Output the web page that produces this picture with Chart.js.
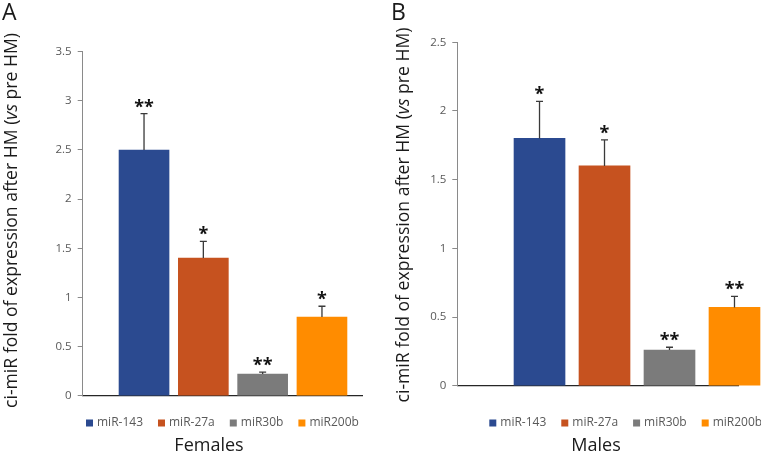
<!DOCTYPE html>
<html>
<head>
<meta charset="utf-8">
<script src="https://cdn.jsdelivr.net/npm/chart.js@4.4.0/dist/chart.umd.min.js"></script>
<style>
  html, body { margin: 0; padding: 0; background: #fff; }
  #wrap { position: relative; width: 761px; height: 454px; overflow: hidden; }
  .panel { position: absolute; top: 0; height: 454px; }
  #panelA { left: 0; width: 380px; }
  #panelB { left: 380px; width: 381px; }
</style>
</head>
<body>
<div id="wrap">
  <div class="panel" id="panelA"><canvas id="femalesChart"></canvas></div>
  <div class="panel" id="panelB"><canvas id="malesChart"></canvas></div>
</div>
<script>
// series (one bar per miRNA)
const mirnas = ['miR-143', 'miR-27a', 'miR30b', 'miR200b'];
const barColors = ['#2B4A90', '#C6521F', '#7B7B7B', '#FF8C00'];

// Females (panel A)
const femaleValues = [2.5, 1.4, 0.22, 0.8];
const femaleErrors = [0.37, 0.17, 0.02, 0.11];
const femaleSig = ['**', '*', '**', '*'];
const femaleTicks = [0, 0.5, 1, 1.5, 2, 2.5, 3, 3.5];

// Males (panel B)
const maleValues = [1.8, 1.6, 0.26, 0.57];
const maleErrors = [0.27, 0.19, 0.02, 0.08];
const maleSig = ['*', '*', '**', '**'];
const maleTicks = [0, 0.5, 1, 1.5, 2, 2.5];

const yTitle = ['ci-miR fold of expression after HM (', 'vs', ' pre HM)'];
const FONT = '"Open Sans", sans-serif';

// error bars, asterisks, legend, captions and rotated y title
const panelExtras = {
  id: 'panelExtras',
  afterDatasetsDraw(chart, args, opts) {
    const ctx = chart.ctx;
    const yScale = chart.scales.y;
    ctx.save();
    chart.data.datasets.forEach((ds, i) => {
      const bar = chart.getDatasetMeta(i).data[0];
      const yTop = yScale.getPixelForValue(ds.data[0].y + opts.errors[i]);
      ctx.strokeStyle = '#3a3a3a';
      ctx.lineWidth = 1.3;
      ctx.beginPath();
      ctx.moveTo(bar.x, bar.y);
      ctx.lineTo(bar.x, yTop);
      ctx.moveTo(bar.x - 3.5, yTop);
      ctx.lineTo(bar.x + 3.5, yTop);
      ctx.stroke();
      ctx.fillStyle = '#111';
      ctx.font = 'bold 18px ' + FONT;
      ctx.textAlign = 'center';
      ctx.textBaseline = 'alphabetic';
      ctx.fillText(opts.sig[i], bar.x, yTop - 1);
    });
    ctx.restore();
  },
  afterDraw(chart, args, opts) {
    const ctx = chart.ctx;
    ctx.save();

    // legend row
    let lx = opts.legendX;
    ctx.font = '12px ' + FONT;
    ctx.textAlign = 'left';
    ctx.textBaseline = 'middle';
    chart.data.datasets.forEach(ds => {
      ctx.fillStyle = ds.backgroundColor;
      ctx.fillRect(lx, opts.legendY - 3.5, 7, 7);
      ctx.fillStyle = '#595959';
      ctx.fillText(ds.label, lx + 11, opts.legendY);
      lx += 11 + ctx.measureText(ds.label).width + 15;
    });

    // caption under the legend
    ctx.fillStyle = '#1a1a1a';
    ctx.font = '18px ' + FONT;
    ctx.textAlign = 'center';
    ctx.textBaseline = 'alphabetic';
    ctx.fillText(opts.caption, opts.captionX, opts.captionY);

    // panel letter
    ctx.font = '23px ' + FONT;
    ctx.textAlign = 'left';
    ctx.fillText(opts.letter, opts.letterX, opts.letterY);

    // y axis title, "vs" in italics
    const normal = '17.6px ' + FONT;
    const italic = 'italic 17.6px ' + FONT;
    const widths = yTitle.map((t, i) => {
      ctx.font = i === 1 ? italic : normal;
      return ctx.measureText(t).width;
    });
    const total = widths.reduce((a, b) => a + b, 0);
    ctx.translate(opts.titleX, opts.titleY);
    ctx.rotate(-Math.PI / 2);
    ctx.textBaseline = 'middle';
    let tx = -total / 2;
    yTitle.forEach((t, i) => {
      ctx.font = i === 1 ? italic : normal;
      ctx.fillText(t, tx, 0);
      tx += widths[i];
    });
    ctx.restore();
  }
};

function makeChart(canvasId, values, errors, sig, ticks, geom) {
  const ctx = document.getElementById(canvasId).getContext('2d');
  return new Chart(ctx, {
    type: 'bar',
    data: {
      datasets: mirnas.map((name, i) => ({
        label: name,
        data: [{ x: i + 1, y: values[i] }],
        backgroundColor: barColors[i],
        borderWidth: 0,
        barThickness: geom.barWidth,
        grouped: false,
        clip: false
      }))
    },
    options: {
      responsive: true,
      maintainAspectRatio: false,
      animation: false,
      events: [],
      layout: { padding: geom.padding },
      scales: {
        x: {
          type: 'linear',
          offset: false,
          min: geom.xMin,
          max: geom.xMax,
          ticks: { display: false },
          grid: { display: false },
          border: { color: '#262626', width: 1.2 },
          afterFit: s => { s.height = 0; }
        },
        y: {
          min: ticks[0],
          max: ticks[ticks.length - 1],
          afterBuildTicks: s => { s.ticks = ticks.map(v => ({ value: v })); },
          ticks: {
            color: '#595959',
            font: { family: FONT, size: 11.5 },
            padding: 6,
            callback: v => String(v)
          },
          grid: { drawOnChartArea: false, tickLength: 5, color: '#8a8a8a' },
          border: { color: '#8a8a8a' },
          afterFit: s => { s.width = geom.axisWidth; }
        }
      },
      plugins: {
        legend: { display: false },
        tooltip: { enabled: false },
        panelExtras: {
          errors: errors,
          sig: sig,
          caption: geom.caption,
          captionX: geom.captionX,
          captionY: 451,
          legendX: geom.legendX,
          legendY: 423,
          letter: geom.letter,
          letterX: geom.letterX,
          letterY: 19.5,
          titleX: geom.titleX,
          titleY: geom.titleY
        }
      }
    },
    plugins: [panelExtras]
  });
}

var femalesChart = makeChart('femalesChart', femaleValues, femaleErrors, femaleSig, femaleTicks, {
  padding: { left: 0, top: 51.7, right: 18, bottom: 58.3 },
  axisWidth: 82.7,
  xMin: -0.034, xMax: 4.675,
  barWidth: 50,
  caption: 'Females', captionX: 209,
  legendX: 86,
  letter: 'A', letterX: 2,
  titleX: 12, titleY: 220.5
});

var malesChart = makeChart('malesChart', maleValues, maleErrors, maleSig, maleTicks, {
  padding: { left: 0, top: 42.3, right: 23, bottom: 68.3 },
  axisWidth: 77.3,
  xMin: -0.265, xMax: 4.054,
  barWidth: 51,
  caption: 'Males', captionX: 216,
  legendX: 109.3,
  letter: 'B', letterX: 11,
  titleX: 24, titleY: 215
});
</script>
</body>
</html>
